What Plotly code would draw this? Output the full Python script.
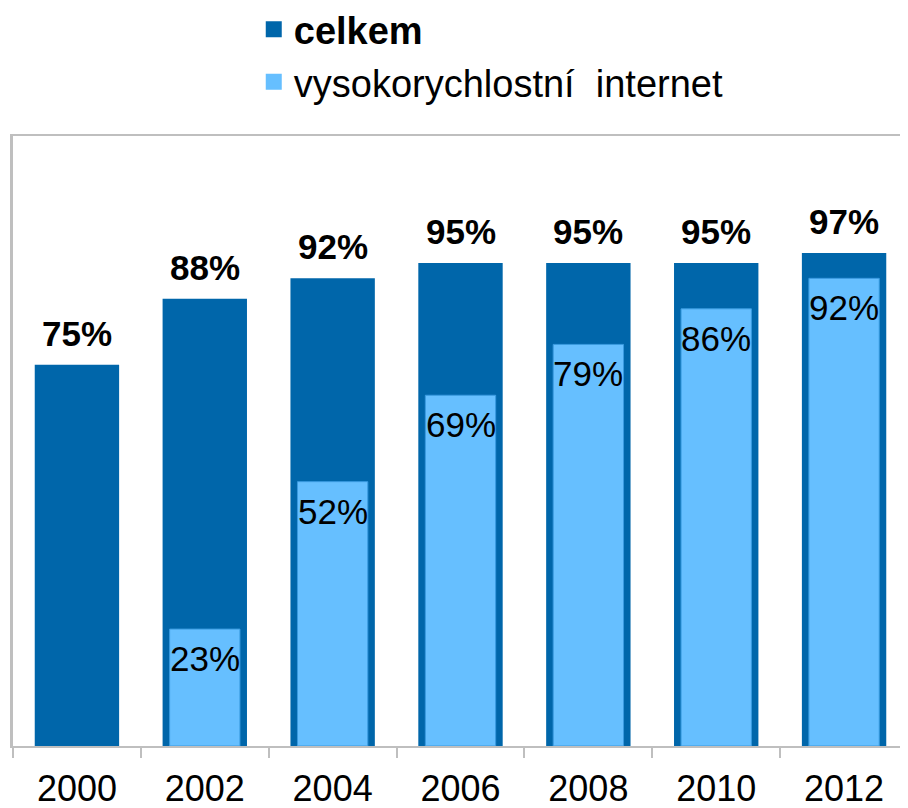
# Share of households / internet connection, celkem vs vysokorychlostní internet

import plotly.graph_objects as go

years = ['2000', '2002', '2004', '2006', '2008', '2010', '2012']
celkem = [75, 88, 92, 95, 95, 95, 97]
vysokorychlostni = [None, 23, 52, 69, 79, 86, 92]

dark_blue = '#0066AA'
light_blue = '#66BFFF'
font_family = 'Liberation Sans, Arial, sans-serif'

fig = go.Figure()

# dark bars - total
fig.add_trace(go.Bar(
    x=years, y=celkem, width=0.66,
    marker=dict(color=dark_blue, line=dict(width=0)),
    showlegend=False, hoverinfo='skip'
))

# light bars - broadband, narrower, drawn on top
fig.add_trace(go.Bar(
    x=years, y=vysokorychlostni, width=0.55,
    marker=dict(color=light_blue, line=dict(width=1, color='#3A9BE0')),
    showlegend=False, hoverinfo='skip'
))

# value labels: bold above the dark bars, plain just inside the top of the light bars
# (annotations on a category axis take the category index, year strings would be read as numbers)
for i, v in enumerate(celkem):
    fig.add_annotation(x=i, y=v, text=f'<b>{v}%</b>', showarrow=False,
                       yanchor='bottom', yshift=10,
                       font=dict(size=35, color='black', family=font_family))
for i, v in enumerate(vysokorychlostni):
    if v is None:
        continue
    fig.add_annotation(x=i, y=v, text=f'{v}%', showarrow=False,
                       yanchor='top', yshift=-8,
                       font=dict(size=35, color='black', family=font_family))

# legend proxies (bigger square symbols than the bar legend gives)
fig.add_trace(go.Scatter(x=[None], y=[None], mode='markers', name='<b>celkem</b>',
                         marker=dict(symbol='square', size=16, color=dark_blue)))
fig.add_trace(go.Scatter(x=[None], y=[None], mode='markers', name='vysokorychlostní  internet',
                         marker=dict(symbol='square', size=16, color=light_blue)))

# page body has an 8px margin, so the figure is 8px smaller than the window
fig.update_layout(
    width=900, height=800,
    margin=dict(l=5, r=0, t=128, b=62, autoexpand=False),
    barmode='overlay',
    plot_bgcolor='white', paper_bgcolor='white',
    font=dict(family=font_family, color='black'),
    legend=dict(x=0.269, y=1.226, xanchor='left', yanchor='top',
                font=dict(size=38, color='black'), tracegroupgap=0,
                itemsizing='trace', bgcolor='rgba(0,0,0,0)'),
    xaxis=dict(type='category', categoryorder='array', categoryarray=years,
               range=[-0.5, len(years) - 0.5],
               showline=True, linecolor='#BFBFBF', linewidth=2, mirror=True,
               ticks='outside', ticklen=10, tickcolor='#BFBFBF', tickwidth=2,
               tickson='boundaries', tickfont=dict(size=36, color='black'),
               ticklabelstandoff=10, automargin=False,
               showgrid=False, fixedrange=True),
    yaxis=dict(range=[0, 120], showline=True, linecolor='#BFBFBF', linewidth=3, mirror=True,
               showticklabels=False, ticks='', showgrid=False, zeroline=False,
               automargin=False),
)

fig.write_html('out.html')
